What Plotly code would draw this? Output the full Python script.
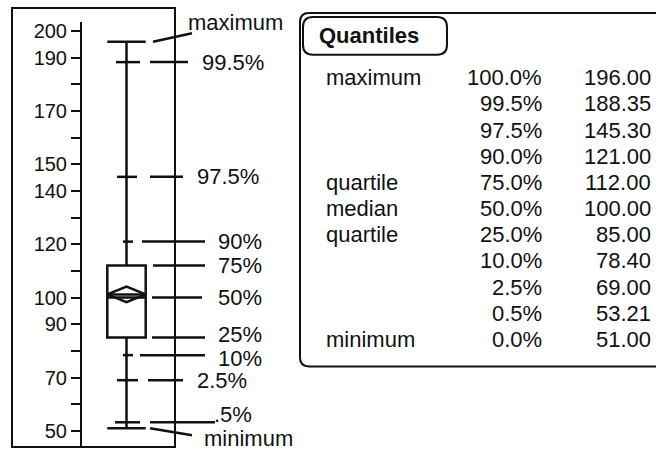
import plotly.graph_objects as go

# ---- quantile data ---------------------------------------------------------
quant_levels = ["100.0%", "99.5%", "97.5%", "90.0%", "75.0%", "50.0%",
                "25.0%", "10.0%", "2.5%", "0.5%", "0.0%"]
quant_names = ["maximum", "", "", "", "quartile", "median", "quartile",
               "", "", "", "minimum"]
quant_values = [196.00, 188.35, 145.30, 121.00, 112.00, 100.00,
                85.00, 78.40, 69.00, 53.21, 51.00]
side_labels = ["maximum", "99.5%", "97.5%", "90%", "75%", "50%", "25%",
               "10%", "2.5%", ".5%", "minimum"]

# mean and its confidence interval (means diamond)
mean_value = 101.2
mean_ci = [98.3, 104.1]

# axis ticks: a tick every 10, labels only on some
tick_values = [50, 60, 70, 80, 90, 100, 110, 120, 130, 140, 150, 160, 170, 180, 190, 200]
tick_labels = ["50", "", "70", "", "90", "100", "", "120", "", "140", "150",
               "", "170", "", "190", "200"]

# ---- page geometry (pixels) -------------------------------------------------
W, H = 656, 452
FONT = "Liberation Sans, Arial, Helvetica, sans-serif"
INK = "#111111"
LW = 2.5

P_TOP, V_TOP, PX_PER_UNIT = 29.2, 200.0, 2.677   # value scale
AX_TOP_PX, AX_BOT_PX, AX_X_PX = 20, 447, 81
y_range = [V_TOP - (AX_BOT_PX - P_TOP) / PX_PER_UNIT,
           V_TOP + (P_TOP - AX_TOP_PX) / PX_PER_UNIT]
y_domain = [1 - AX_BOT_PX / H, 1 - AX_TOP_PX / H]

BOX_X, BOX_W = 126.5, 38.4

# small dashes on the whisker for the non-box quantiles (x0, x1) or None
whisker_dash = [None, (116, 140), (117, 137), (123, 133), None, None, None,
                (123, 133), (117, 138), (115, 140), None]
# leader lines to the right-hand labels: x0, x1, vertical offset at x1 (px, + = up)
leader = [(153, 192, 8.5), (150, 188, 0), (150, 183, 0), (142, 205, 0),
          (153, 205, 0), (152, 202, 0), (152, 205, 0), (140, 205, 0),
          (148, 183, 0), (150, 215, 0), (150, 192, -7)]
# label position: left x and vertical shift (px, + = up)
label_pos = [(187, 19), (201, 0), (196, 0), (217, 0), (217, 0), (217, 0),
             (217, 3.5), (217, -3.5), (196, 0), (213, 8), (203, -10.5)]


def fx(p):
    return p / W


def fy(p):
    return 1 - p / H


def round_rect(x0, y0, x1, y1, r):
    pts = [("M", (x0 + r, y0)), ("L", (x1 - r, y0)), ("Q", (x1, y0), (x1, y0 + r)),
           ("L", (x1, y1 - r)), ("Q", (x1, y1), (x1 - r, y1)),
           ("L", (x0 + r, y1)), ("Q", (x0, y1), (x0, y1 - r)),
           ("L", (x0, y0 + r)), ("Q", (x0, y0), (x0 + r, y0))]
    out = []
    for seg in pts:
        cmd, coords = seg[0], seg[1:]
        out.append(cmd + " " + " ".join(f"{fx(a):.5f},{fy(b):.5f}" for a, b in coords))
    return " ".join(out) + " Z"


fig = go.Figure()

# box plot from the quartiles and extremes
fig.add_trace(go.Box(
    x=[BOX_X], q1=[quant_values[6]], median=[quant_values[5]], q3=[quant_values[4]],
    lowerfence=[quant_values[10]], upperfence=[quant_values[0]],
    width=BOX_W, whiskerwidth=1.0, boxpoints=False,
    line=dict(color=INK, width=LW), fillcolor="rgba(0,0,0,0)",
    hoverinfo="skip", showlegend=False,
))

# means diamond
bl, br = BOX_X - BOX_W / 2, BOX_X + BOX_W / 2
fig.add_trace(go.Scatter(
    x=[bl, BOX_X, br, BOX_X, bl, None, bl, br],
    y=[mean_value, mean_ci[1], mean_value, mean_ci[0], mean_value, None, mean_value, mean_value],
    mode="lines", line=dict(color=INK, width=LW), hoverinfo="skip", showlegend=False,
))

shapes = []
annotations = []

# whisker dashes and leader lines
for v, dash, (lx0, lx1, off) in zip(quant_values, whisker_dash, leader):
    if dash is not None:
        shapes.append(dict(type="line", xref="x", yref="y", x0=dash[0], x1=dash[1],
                           y0=v, y1=v, line=dict(color=INK, width=LW)))
    shapes.append(dict(type="line", xref="x", yref="y", x0=lx0, x1=lx1,
                       y0=v, y1=v + off / PX_PER_UNIT, line=dict(color=INK, width=LW)))

for v, text, (lx, shift) in zip(quant_values, side_labels, label_pos):
    annotations.append(dict(x=lx, y=v, xref="x", yref="y", text=text, showarrow=False,
                            xanchor="left", yanchor="middle", yshift=shift, borderpad=0,
                            font=dict(family=FONT, size=22, color=INK)))

# frame round the box plot
shapes.append(dict(type="rect", xref="paper", yref="paper", x0=fx(12), x1=fx(175),
                   y0=fy(447), y1=fy(6), line=dict(color=INK, width=2)))

# quantiles table frame and header
shapes.append(dict(type="path", xref="paper", yref="paper",
                   path=round_rect(300, 11, 690, 366, 9), line=dict(color=INK, width=2)))
shapes.append(dict(type="path", xref="paper", yref="paper",
                   path=round_rect(303, 15, 447, 53, 10), line=dict(color=INK, width=2)))
annotations.append(dict(x=fx(317), y=fy(34), xref="paper", yref="paper",
                        text="<b>Quantiles</b>", showarrow=False, xanchor="left",
                        yanchor="middle", font=dict(family=FONT, size=22, color=INK)))

for i, (name, lvl, v) in enumerate(zip(quant_names, quant_levels, quant_values)):
    ypix = 76 + i * 26.3
    if name:
        annotations.append(dict(x=fx(325), y=fy(ypix), xref="paper", yref="paper",
                                text=name, showarrow=False, xanchor="left", yanchor="middle",
                                borderpad=0, font=dict(family=FONT, size=22, color=INK)))
    annotations.append(dict(x=fx(543), y=fy(ypix), xref="paper", yref="paper",
                            text=lvl, showarrow=False, xanchor="right", yanchor="middle",
                            borderpad=0, font=dict(family=FONT, size=22, color=INK)))
    annotations.append(dict(x=fx(652), y=fy(ypix), xref="paper", yref="paper",
                            text=f"{v:.2f}", showarrow=False, xanchor="right", yanchor="middle",
                            borderpad=0, font=dict(family=FONT, size=22, color=INK)))

fig.update_layout(
    width=W, height=H, margin=dict(l=0, r=0, t=0, b=0),
    paper_bgcolor="white", plot_bgcolor="rgba(0,0,0,0)",
    showlegend=False, shapes=shapes, annotations=annotations,
    xaxis=dict(domain=[0, 1], range=[0, W], visible=False, fixedrange=True),
    yaxis=dict(domain=y_domain, range=y_range, anchor="free", position=AX_X_PX / W,
               side="left", showline=True, linecolor=INK, linewidth=2,
               ticks="outside", ticklen=9, tickwidth=2, tickcolor=INK,
               tickvals=tick_values, ticktext=tick_labels,
               tickfont=dict(family=FONT, size=20, color=INK),
               showgrid=False, zeroline=False, fixedrange=True),
)

fig.write_html("out.html")
